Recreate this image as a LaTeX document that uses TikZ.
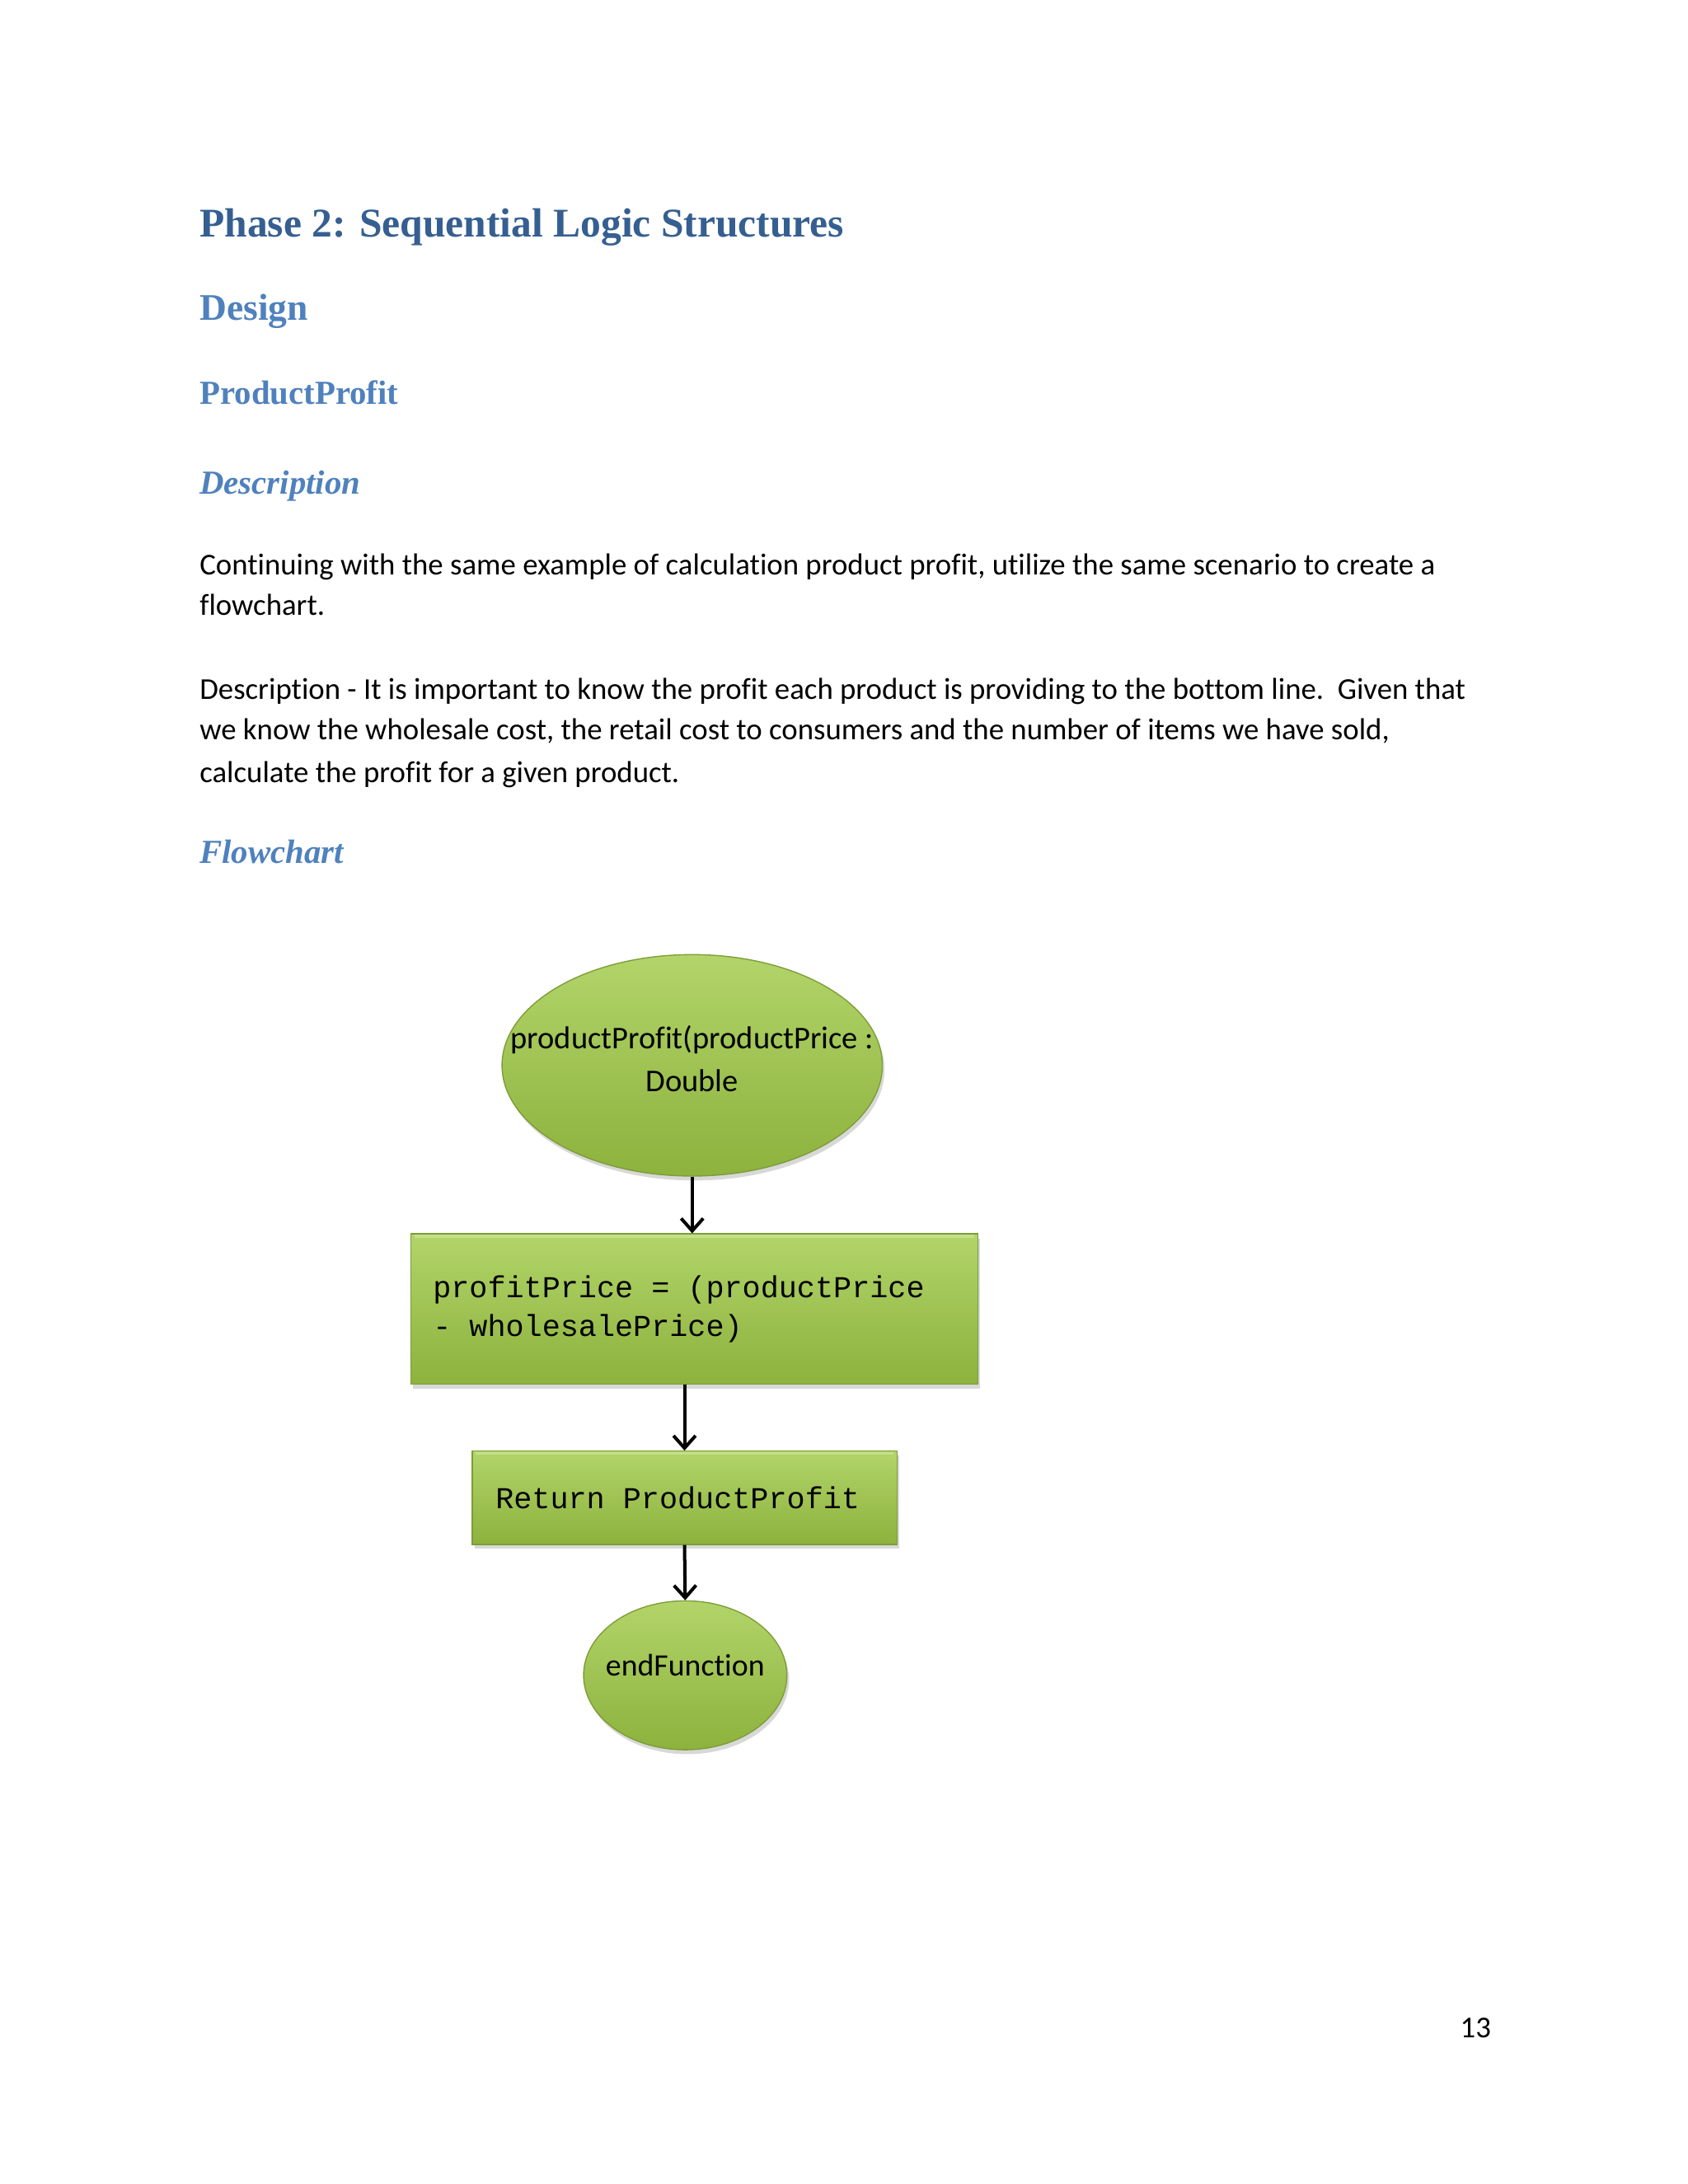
\documentclass[tikz,border=0pt]{standalone}
\usepackage{fontspec}
\setmainfont[Ligatures=NoCommon]{Carlito}
\newfontfamily\headfont{Liberation Serif}
\setmonofont[WordSpace={1,0,0}]{Liberation Mono}
\usetikzlibrary{shapes.geometric,arrows.meta,shadows}
\definecolor{hone}{HTML}{365F91}
\definecolor{htwo}{HTML}{4F81BD}
\definecolor{gtop}{HTML}{B2D46A}
\definecolor{gbot}{HTML}{8DB23D}
\definecolor{gedge}{HTML}{7C9C36}
\definecolor{ghi}{HTML}{C4E08A}
\newcommand\myMonoSpacing{\spaceskip=6.6pt\relax}
\begin{document}
\begin{tikzpicture}[x=0.50495pt,y=-0.50495pt,
  body/.style={anchor=base west,inner sep=0pt,font=\fontsize{11}{13}\selectfont},
  hA/.style={anchor=base west,inner sep=0pt,text=hone,font=\headfont\bfseries\fontsize{14.8}{18}\selectfont},
  hB/.style={anchor=base west,inner sep=0pt,text=htwo,font=\headfont\bfseries\fontsize{13.6}{16}\selectfont},
  hC/.style={anchor=base west,inner sep=0pt,text=htwo,font=\headfont\bfseries\fontsize{12.2}{15}\selectfont},
  hD/.style={anchor=base west,inner sep=0pt,text=htwo,font=\headfont\bfseries\itshape\fontsize{12.2}{15}\selectfont},
  greenfill/.style={top color=gtop,bottom color=gbot,draw=gedge,line width=0.4pt,
    drop shadow={opacity=0.3,shadow xshift=0.8pt,shadow yshift=-1.6pt}},
  oval/.style={greenfill,shape=ellipse,inner sep=0pt},
  box/.style={greenfill,shape=rectangle,align=left,inner ysep=0pt,
    font=\ttfamily\fontsize{11}{14.1}\selectfont},
  ovaltext/.style={align=center,inner sep=0pt,font=\fontsize{11.5}{15.6}\selectfont},
  arr/.style={-{Straight Barb[length=4.5pt,width=8pt]},line width=1.2pt,black}
]
\useasboundingbox (0,0) rectangle (1212,1568.3);
\fill[white] (0,0) rectangle (1212,1568.3);

% headings and text
\node[hA] (title) at (143,170) {Phase 2: Sequential Logic Structures};
\node[hB] (design) at (143,230) {Design};
\node[hC] (pp) at (143,290) {ProductProfit};
\node[hD] (desc) at (143,355) {Description};
\node[body] (l1) at (143,413) {Continuing with the same example of calculation product profit, utilize the same scenario to create a};
\node[body] (l2) at (143,442) {flowchart.};
\node[body] (l3) at (143,502) {Description - It is important to know the profit each product is providing to the bottom line.\ \ Given that};
\node[body] (l4) at (143,531) {we know the wholesale cost, the retail cost to consumers and the number of items we have sold,};
\node[body] (l5) at (143,562) {calculate the profit for a given product.};
\node[hD] (fc) at (143,620) {Flowchart};

% flowchart
\node[oval,minimum width=137.9pt,minimum height=80.3pt] (e1) at (497,765) {};
\node[ovaltext] (e1t) at (497,760) {productProfit(productPrice :\\Double};

\node[box,text width=189.5pt,inner xsep=8pt,minimum height=54.5pt] (r1) at (498.5,940)
  {\myMonoSpacing profitPrice = (productPrice\\- wholesalePrice)};
\draw[ghi,line width=1pt] ([xshift=1.5pt,yshift=-1pt]r1.north west) -- ([xshift=-1.5pt,yshift=-1pt]r1.north east);

\node[box,text width=137pt,inner xsep=8.5pt,minimum height=33.8pt] (r2) at (491.5,1075.5)
  {\myMonoSpacing Return ProductProfit};
\draw[ghi,line width=1pt] ([xshift=1.5pt,yshift=-1pt]r2.north west) -- ([xshift=-1.5pt,yshift=-1pt]r2.north east);

\node[oval,minimum width=73.7pt,minimum height=54pt] (e2) at (492,1203) {};
\node[ovaltext,font=\fontsize{11.3}{14}\selectfont] (e2t) at (492,1196) {endFunction};

\draw[arr] (e1.south) -- (e1.south |- r1.north);
\draw[arr] (r1.south -| r2.north) -- (r2.north);
\draw[arr] (r2.south) -- (e2.north);

% page number
\node[body,anchor=base east] (pg) at (1071,1463) {13};
\end{tikzpicture}
\end{document}
